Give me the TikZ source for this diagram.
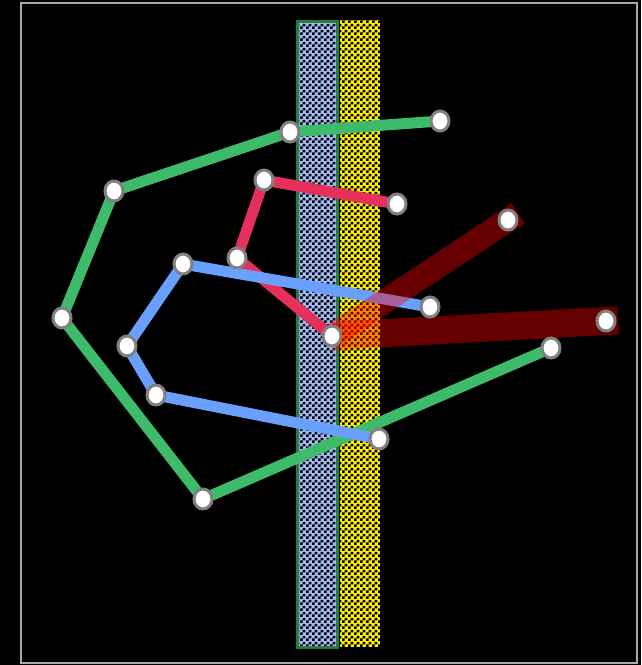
\documentclass[tikz,border=0pt]{standalone}
\usetikzlibrary{patterns,shapes.geometric}
\definecolor{framecol}{RGB}{170,170,170}
\definecolor{greencol}{RGB}{61,187,106}
\definecolor{redcol}{RGB}{230,48,92}
\definecolor{bluecol}{RGB}{105,160,255}
\definecolor{stripblue}{RGB}{165,190,245}
\definecolor{stripedge}{RGB}{40,125,60}
\definecolor{stopedge}{RGB}{128,128,128}
\pgfdeclarepatternformonly{finechecker}{\pgfpointorigin}{\pgfqpoint{6pt}{6pt}}{\pgfqpoint{6pt}{6pt}}{%
  \pgfpathrectangle{\pgfpointorigin}{\pgfqpoint{3pt}{3pt}}%
  \pgfpathrectangle{\pgfqpoint{3pt}{3pt}}{\pgfqpoint{3pt}{3pt}}%
  \pgfusepath{fill}}
\pgfdeclarelayer{strips}
\pgfdeclarelayer{routes}
\pgfsetlayers{strips,routes,main}

\begin{document}
\begin{tikzpicture}[
    x=1pt, y=-1pt,
    stop/.style={ellipse, minimum width=18pt, minimum height=20pt, inner sep=0pt, fill=white, draw=stopedge, line width=3pt},
    route/.style={line width=11pt, line join=round},
    bar/.style={red, opacity=0.4, shorten >=-12pt},
    strip/.style={pattern=finechecker, pattern color=black},
]
\node[stop] (g1) at (440,121) {};
\node[stop] (g2) at (290,132) {};
\node[stop] (g3) at (114,191) {};
\node[stop] (g4) at (62,318) {};
\node[stop] (g5) at (203,499) {};
\node[stop] (g6) at (551,348) {};

\node[stop] (r1) at (397,204) {};
\node[stop] (r2) at (264,180) {};
\node[stop] (r3) at (237,258) {};
\node[stop] (hub) at (332,336) {};

\node[stop] (b1) at (430,307) {};
\node[stop] (b2) at (183,264) {};
\node[stop] (b3) at (127,346) {};
\node[stop] (b4) at (156,395) {};
\node[stop] (b5) at (379,439) {};

\node[stop] (e1) at (508,220) {};
\node[stop] (e2) at (606,321) {};

\begin{pgfonlayer}{strips}
\fill[black] (0,0) rectangle (641,665);
\draw[framecol, line width=2pt] (21,3) rectangle (637,663);
\fill[stripblue] (297,21) rectangle (337,647);
\fill[strip] (297,21) rectangle (337,647);
\draw[stripedge, line width=3pt] (297,21) rectangle (337,647);
\fill[yellow] (340,20) rectangle (380,647);
\fill[strip] (340,20) rectangle (380,647);
\end{pgfonlayer}

\begin{pgfonlayer}{routes}
\draw[route, greencol] (g1.center) -- (g2.center) -- (g3.center) -- (g4.center) -- (g5.center) -- (g6.center);
\draw[route, redcol] (r1.center) -- (r2.center) -- (r3.center) -- (hub.center);
\draw[route, bluecol] (b1.center) -- (b2.center) -- (b3.center) -- (b4.center) -- (b5.center);
\draw[bar, line width=24pt] (hub.center) -- (e1.center);
\draw[bar, line width=28pt] (hub.center) -- (e2.center);
\end{pgfonlayer}

\useasboundingbox (0,0) rectangle (641,665);
\end{tikzpicture}
\end{document}
